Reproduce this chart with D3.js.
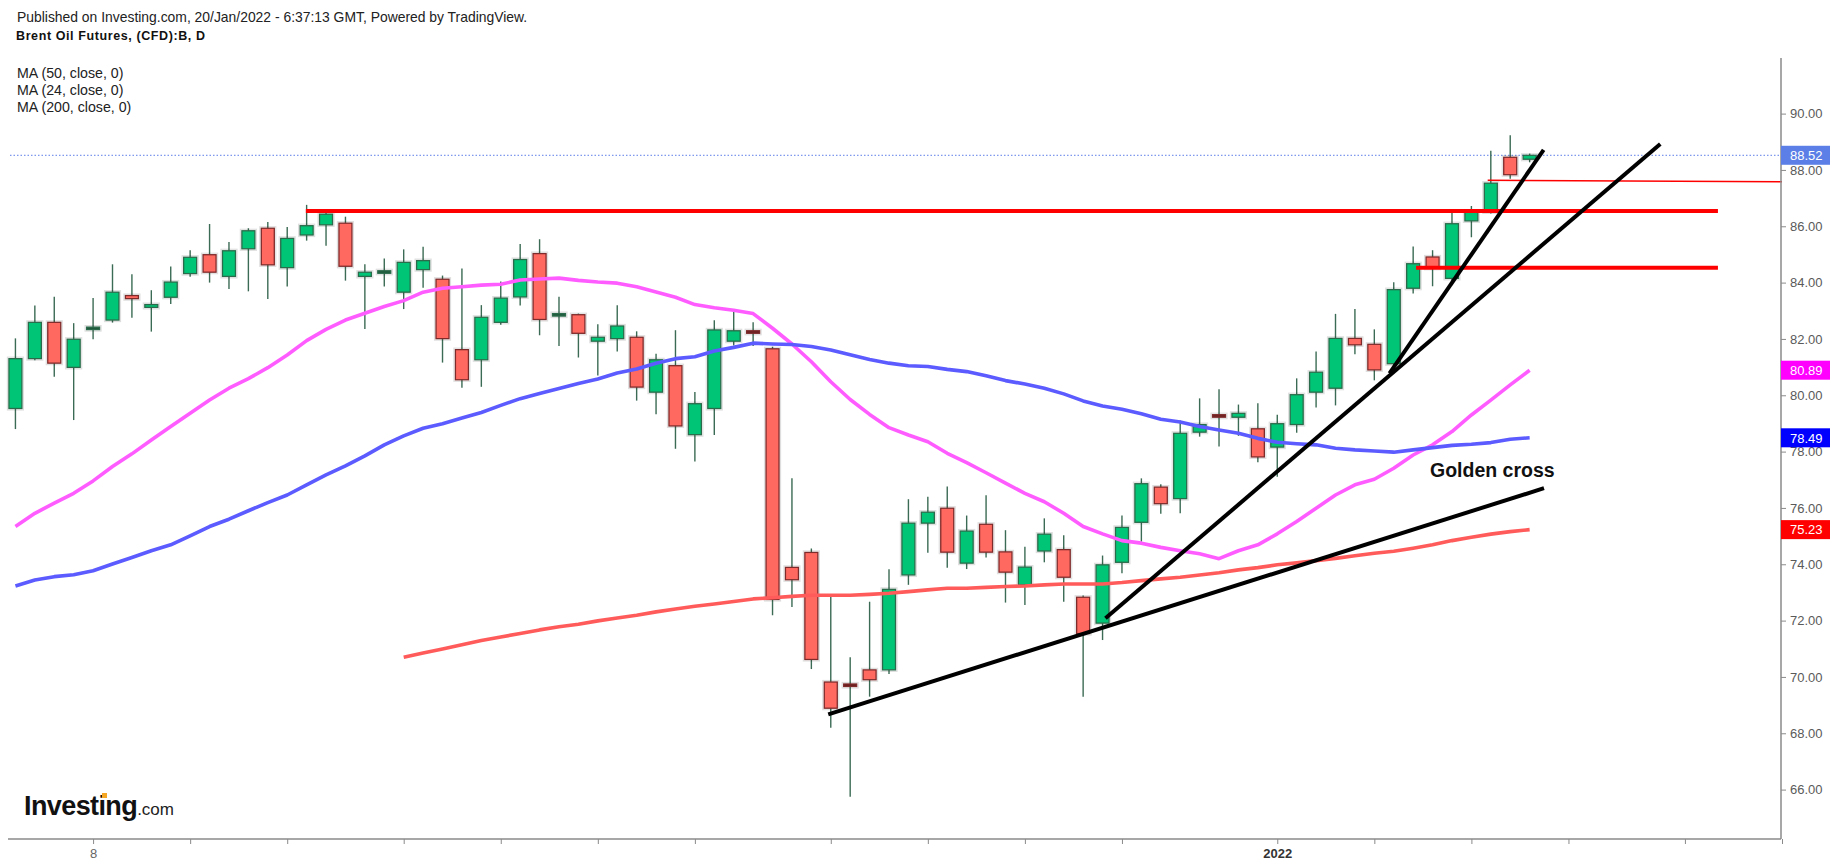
<!DOCTYPE html>
<html>
<head>
<meta charset="utf-8">
<script src="https://cdn.jsdelivr.net/npm/d3@7"></script>
<style>
  body { margin: 0; background: #fff; }
  svg text { font-family: "Liberation Sans", Arial, sans-serif; }
</style>
</head>
<body>
<div id="chart"></div>
<script>
// daily candles, Oct 4 2021 .. Jan 20 2022 (bar index 0..78)
const opens = [79.53, 81.30, 82.59, 80.99, 82.38, 82.67, 83.54, 83.12, 83.48, 84.32,
  84.99, 84.22, 85.20, 85.93, 84.53, 85.69, 86.05, 86.11, 84.22, 84.38,
  83.66, 84.46, 84.12, 81.62, 81.26, 82.59, 83.49, 85.03, 82.86, 82.86,
  81.92, 82.01, 82.06, 80.11, 81.05, 78.60, 79.53, 81.92, 82.29, 81.65,
  73.89, 74.42, 69.82, 69.75, 70.25, 70.25, 73.62, 75.46, 75.99, 74.04,
  75.42, 74.44, 73.27, 74.47, 74.52, 72.83, 71.91, 74.07, 75.49, 76.74,
  76.33, 78.69, 79.31, 79.22, 78.81, 78.16, 78.96, 80.11, 80.25, 82.02,
  81.81, 81.12, 83.80, 84.91, 84.15, 86.19, 86.51, 88.45, 88.38];
const highs = [82.02, 83.19, 83.50, 82.56, 83.45, 84.65, 84.30, 83.73, 84.57, 85.15,
  86.08, 85.44, 85.93, 86.15, 85.97, 86.76, 86.58, 86.34, 84.65, 84.86,
  85.18, 85.27, 84.25, 84.50, 83.20, 84.04, 85.37, 85.54, 83.50, 82.90,
  82.52, 83.20, 82.27, 81.47, 82.31, 80.12, 82.66, 83.05, 82.59, 81.72,
  77.05, 74.56, 72.88, 70.70, 72.67, 73.82, 76.31, 76.40, 76.76, 75.73,
  76.45, 75.21, 74.62, 75.63, 75.03, 72.89, 74.31, 75.73, 77.05, 76.84,
  79.10, 79.89, 80.21, 79.67, 79.72, 79.31, 80.60, 81.55, 82.89, 83.06,
  82.34, 84.01, 85.28, 85.15, 86.55, 86.72, 88.68, 89.23, 88.58];
const lows = [78.80, 81.24, 80.66, 79.12, 81.99, 82.58, 82.75, 82.26, 83.24, 84.21,
  84.00, 83.77, 83.69, 83.42, 83.86, 85.49, 85.31, 84.07, 82.35, 83.86,
  83.06, 83.82, 81.16, 80.27, 80.30, 82.50, 83.19, 82.13, 81.75, 81.34,
  80.70, 81.55, 79.81, 79.33, 78.10, 77.65, 78.59, 81.77, 81.75, 72.19,
  72.48, 70.28, 68.20, 65.75, 69.30, 70.10, 73.27, 74.41, 73.88, 73.83,
  74.24, 72.64, 72.55, 74.07, 72.67, 69.30, 71.31, 73.68, 74.80, 75.79,
  75.81, 78.53, 78.18, 78.56, 77.62, 77.11, 78.67, 79.57, 79.64, 81.46,
  80.53, 80.96, 83.61, 83.87, 84.03, 85.61, 86.45, 87.69, 88.27];
const closes = [81.30, 82.59, 81.14, 81.99, 82.42, 83.66, 83.43, 83.22, 84.02, 84.90,
  84.37, 85.13, 85.84, 84.63, 85.57, 86.02, 86.43, 84.58, 84.37, 84.42,
  84.72, 84.78, 82.01, 80.55, 82.77, 83.45, 84.82, 82.69, 82.90, 82.20,
  82.06, 82.46, 80.29, 81.26, 78.91, 79.70, 82.32, 82.29, 82.25, 72.75,
  73.45, 70.62, 68.89, 69.67, 69.90, 73.11, 75.46, 75.85, 74.43, 75.18,
  74.43, 73.72, 73.90, 75.07, 73.54, 71.54, 73.98, 75.31, 76.86, 76.15,
  78.65, 78.96, 79.27, 79.36, 77.81, 78.99, 80.02, 80.82, 82.02, 81.79,
  80.90, 83.75, 84.67, 84.51, 86.09, 86.50, 87.53, 87.83, 88.52];

// moving averages
const ma24 = [75.34, 75.81, 76.17, 76.52, 76.96, 77.47, 77.92, 78.41, 78.89, 79.36,
  79.83, 80.25, 80.59, 80.98, 81.43, 81.94, 82.34, 82.67, 82.91, 83.15,
  83.36, 83.66, 83.80, 83.85, 83.91, 83.94, 84.09, 84.13, 84.16, 84.08,
  84.02, 83.98, 83.85, 83.67, 83.48, 83.22, 83.11, 83.02, 82.90, 82.38,
  81.82, 81.19, 80.48, 79.85, 79.32, 78.85, 78.59, 78.35, 77.94, 77.61,
  77.25, 76.88, 76.52, 76.22, 75.81, 75.34, 75.08, 74.84, 74.75, 74.60,
  74.48, 74.37, 74.20, 74.48, 74.69, 75.08, 75.52, 75.99, 76.46, 76.82,
  77.02, 77.41, 77.88, 78.24, 78.71, 79.30, 79.83, 80.37, 80.89];
const ma50 = [73.23, 73.44, 73.56, 73.63, 73.77, 74.01, 74.24, 74.48, 74.69, 75.01,
  75.34, 75.60, 75.90, 76.19, 76.46, 76.82, 77.17, 77.49, 77.85, 78.24,
  78.56, 78.83, 78.99, 79.19, 79.39, 79.64, 79.88, 80.06, 80.24, 80.42,
  80.58, 80.79, 80.93, 81.14, 81.30, 81.37, 81.57, 81.70, 81.85, 81.82,
  81.80, 81.73, 81.61, 81.44, 81.27, 81.14, 81.05, 81.02, 80.92, 80.84,
  80.69, 80.52, 80.40, 80.25, 80.05, 79.80, 79.62, 79.50, 79.34, 79.15,
  79.05, 78.89, 78.77, 78.65, 78.47, 78.33, 78.28, 78.24, 78.12, 78.06,
  78.02, 77.98, 78.06, 78.14, 78.22, 78.26, 78.32, 78.44, 78.49];
const ma200 = [null, null, null, null, null, null, null, null, null, null,
  null, null, null, null, null, null, null, null, null, null,
  70.70, 70.85, 70.99, 71.14, 71.29, 71.42, 71.54, 71.67, 71.78, 71.87,
  71.99, 72.09, 72.19, 72.31, 72.41, 72.51, 72.59, 72.68, 72.77, 72.81,
  72.86, 72.90, 72.90, 72.90, 72.93, 72.97, 73.03, 73.09, 73.15, 73.15,
  73.18, 73.21, 73.23, 73.27, 73.30, 73.30, 73.30, 73.35, 73.42, 73.48,
  73.54, 73.62, 73.70, 73.80, 73.88, 73.98, 74.05, 74.13, 74.21, 74.30,
  74.39, 74.46, 74.57, 74.69, 74.84, 74.96, 75.07, 75.16, 75.23];

// axis ticks
const xTickBars = [4, 9, 14, 20, 25, 30, 35, 42, 47, 52, 57, 65, 70, 75, 80, 86, 91];
const xTickLabels = ["8", "", "", "", "", "", "", "", "", "", "", "2022", "", "", "", "", ""];
const yTicks = [66, 68, 70, 72, 74, 76, 78, 80, 82, 84, 86, 88, 90];

// drawn annotations, [bar, price]
const trendLines = [
  [[41.87, 68.67], [78.74, 76.70]],
  [[56.15, 72.08], [84.73, 88.92]],
  [[70.78, 80.78], [78.72, 88.71]]
];
const levelLines = [
  [[14.96, 86.54], [87.7, 86.54]],
  [[72.15, 84.53], [87.7, 84.53]]
];
const thinLevel = [[75.84, 87.63], [91, 87.58]];

const lastPrice = 88.52;
const maLegend = ["MA (50, close, 0)", "MA (24, close, 0)", "MA (200, close, 0)"];

const width = 1837, height = 866;
const plot = { left: 10, right: 1781, top: 58, bottom: 839 };

const svg = d3.select("#chart")
  .append("svg")
    .attr("width", width)
    .attr("height", height)
    .style("background", "#fff");

const x = d3.scaleLinear()
  .domain([-0.28, 91])
  .range([plot.left, 1782]);

const y = d3.scaleLinear()
  .domain([66, 90])
  .range([789.6, 113.6]);

// header texts
svg.append("text")
  .attr("x", 17).attr("y", 22)
  .attr("font-size", 13.9)
  .attr("fill", "#222")
  .text("Published on Investing.com, 20/Jan/2022 - 6:37:13 GMT, Powered by TradingView.");

svg.append("text")
  .attr("x", 16).attr("y", 40)
  .attr("font-size", 12.5)
  .attr("font-weight", "bold")
  .attr("letter-spacing", 0.6)
  .attr("fill", "#111")
  .text("Brent Oil Futures, (CFD):B, D");

svg.selectAll(".ma-label")
  .data(maLegend)
  .enter()
  .append("text")
    .attr("class", "ma-label")
    .attr("x", 17)
    .attr("y", (d, i) => 78 + i * 17)
    .attr("font-size", 14.2)
    .attr("fill", "#222")
    .text(d => d);

// last price dotted line
svg.append("line")
  .attr("x1", plot.left).attr("x2", plot.right)
  .attr("y1", y(lastPrice)).attr("y2", y(lastPrice))
  .attr("stroke", "#5c7fe8")
  .attr("stroke-width", 1)
  .attr("stroke-dasharray", "1.5,2");

// candles
const bars = d3.range(closes.length);
const bodyW = 13;

const candle = svg.append("g")
  .selectAll("g")
  .data(bars)
  .enter()
  .append("g");

candle.append("line")
  .attr("x1", i => x(i)).attr("x2", i => x(i))
  .attr("y1", i => y(highs[i]))
  .attr("y2", i => y(lows[i]))
  .attr("stroke", "#3b6b54")
  .attr("stroke-width", 1.4);

// faint halo round each body
candle.append("rect")
  .attr("x", i => x(i) - bodyW / 2 - 1.5)
  .attr("y", i => y(Math.max(opens[i], closes[i])) - 1.5)
  .attr("width", bodyW + 3)
  .attr("height", i => Math.max(2.5, y(Math.min(opens[i], closes[i])) - y(Math.max(opens[i], closes[i]))) + 3)
  .attr("fill", "none")
  .attr("stroke", "rgba(0,0,0,0.13)")
  .attr("stroke-width", 1.2);

candle.append("rect")
  .attr("x", i => x(i) - bodyW / 2)
  .attr("y", i => y(Math.max(opens[i], closes[i])))
  .attr("width", bodyW)
  .attr("height", i => Math.max(2.5, y(Math.min(opens[i], closes[i])) - y(Math.max(opens[i], closes[i]))))
  .attr("fill", i => {
    const up = closes[i] >= opens[i];
    const flat = Math.abs(closes[i] - opens[i]) < 0.08;
    if (flat) return up ? "#1e5a3c" : "#6b1f1f";
    return up ? "#00c476" : "#ff6960";
  })
  .attr("stroke", i => closes[i] >= opens[i] ? "#2b6a4a" : "#7e2b2b")
  .attr("stroke-width", 1.3);

// moving averages
const maLine = values => d3.line()
  .defined(i => values[i] !== null)
  .x(i => x(i))
  .y(i => y(values[i]))(bars);

const maSeries = [
  { values: ma24, color: "#ff5cff" },
  { values: ma50, color: "#5b5bff" },
  { values: ma200, color: "#ff5b5b" }
];

svg.append("g")
  .selectAll("path")
  .data(maSeries)
  .enter()
  .append("path")
    .attr("d", d => maLine(d.values))
    .attr("fill", "none")
    .attr("stroke", d => d.color)
    .attr("stroke-width", 3.6)
    .attr("stroke-linejoin", "round");

// annotations
const seg = d3.line().x(d => x(d[0])).y(d => y(d[1]));

svg.append("g")
  .selectAll("path")
  .data(levelLines)
  .enter()
  .append("path")
    .attr("d", seg)
    .attr("stroke", "#ff0000")
    .attr("stroke-width", 4);

svg.append("path")
  .attr("d", seg(thinLevel))
  .attr("stroke", "#ff0000")
  .attr("stroke-width", 1.5);

svg.append("g")
  .selectAll("path")
  .data(trendLines)
  .enter()
  .append("path")
    .attr("d", seg)
    .attr("stroke", "#000")
    .attr("stroke-width", 4);

svg.append("text")
  .attr("x", 1430).attr("y", 477)
  .attr("font-family", "DejaVu Sans")
  .attr("font-weight", "bold")
  .attr("font-size", 19.5)
  .attr("fill", "#111")
  .text("Golden cross");

// axes
const axisColor = "#8a8a8a";

const yAxis = svg.append("g")
  .attr("transform", "translate(" + plot.right + ",0)")
  .call(d3.axisRight(y).tickValues(yTicks).tickSize(5).tickFormat(d3.format(".2f")));
yAxis.select(".domain").remove();
yAxis.selectAll("line").attr("stroke", axisColor);
yAxis.selectAll("text")
  .attr("x", 9)
  .attr("font-size", 13)
  .attr("font-family", "Liberation Sans, Arial, sans-serif")
  .attr("fill", "#5a5a5a");

const xAxis = svg.append("g")
  .attr("transform", "translate(0," + plot.bottom + ")")
  .call(d3.axisBottom(x).tickValues(xTickBars).tickSize(5)
    .tickFormat((d, i) => xTickLabels[i]));
xAxis.select(".domain").remove();
xAxis.selectAll("line").attr("stroke", axisColor);
xAxis.selectAll("text")
  .attr("y", 10)
  .attr("font-size", 13)
  .attr("font-family", "Liberation Sans, Arial, sans-serif")
  .attr("font-weight", d => xTickLabels[xTickBars.indexOf(d)] === "2022" ? "bold" : "normal")
  .attr("fill", d => xTickLabels[xTickBars.indexOf(d)] === "2022" ? "#333" : "#666");

svg.append("line")
  .attr("x1", plot.right).attr("x2", plot.right)
  .attr("y1", plot.top).attr("y2", plot.bottom)
  .attr("stroke", axisColor).attr("stroke-width", 1.5);
svg.append("line")
  .attr("x1", 8).attr("x2", plot.right)
  .attr("y1", plot.bottom).attr("y2", plot.bottom)
  .attr("stroke", axisColor).attr("stroke-width", 1.5);

// price badges on the right axis
const badges = [
  { value: lastPrice, color: "#5b7fe6" },
  { value: ma24[ma24.length - 1], color: "#ff00ff" },
  { value: ma50[ma50.length - 1], color: "#0000ff" },
  { value: ma200[ma200.length - 1], color: "#ff0000" }
];

const badge = svg.append("g")
  .selectAll("g")
  .data(badges)
  .enter()
  .append("g")
    .attr("transform", d => "translate(" + plot.right + "," + y(d.value) + ")");
badge.append("rect")
  .attr("x", 0).attr("y", -9.5)
  .attr("width", 49).attr("height", 19)
  .attr("fill", d => d.color);
badge.append("text")
  .attr("x", 9).attr("y", 4.7)
  .attr("font-size", 13)
  .attr("fill", "#fff")
  .text(d => d3.format(".2f")(d.value));

// logo
const logo = svg.append("text")
  .attr("x", 24).attr("y", 815);
logo.append("tspan")
  .attr("font-size", 27)
  .attr("font-weight", "bold")
  .attr("letter-spacing", -0.6)
  .attr("fill", "#111")
  .text("Investing");
logo.append("tspan")
  .attr("font-size", 17)
  .attr("fill", "#222")
  .text(".com");
svg.append("rect")
  .attr("x", 102).attr("y", 793)
  .attr("width", 5).attr("height", 5)
  .attr("fill", "#f5a623");
</script>
</body>
</html>
